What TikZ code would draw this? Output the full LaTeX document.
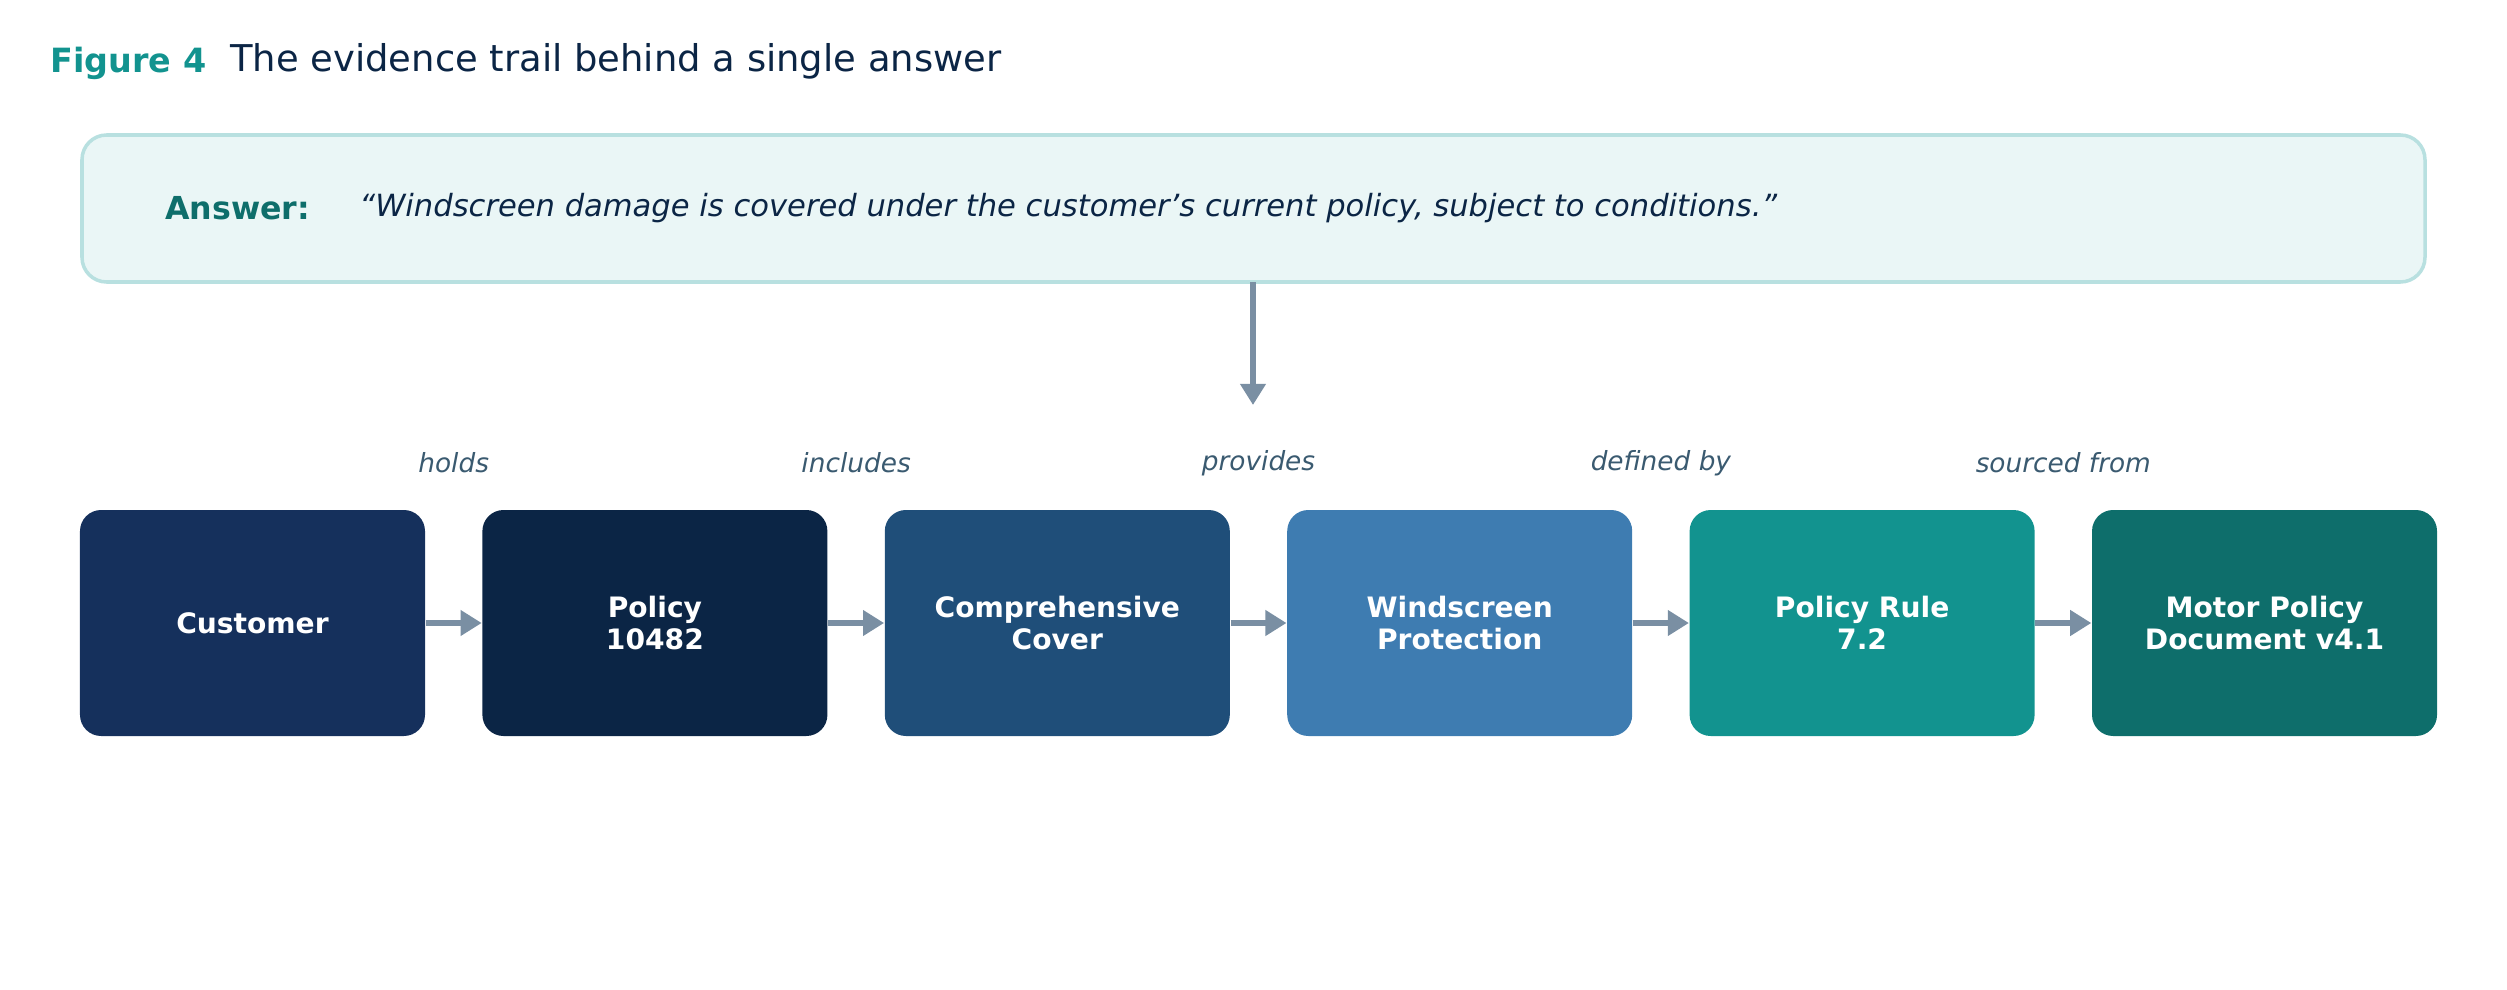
\documentclass[tikz,border=0pt]{standalone}
\usepackage{fontspec}
\setmainfont{DejaVu Sans}
\usetikzlibrary{positioning,arrows.meta}
\definecolor{teal1}{HTML}{12938F}
\definecolor{teal2}{HTML}{0E6E6B}
\definecolor{navy}{HTML}{0B2545}
\definecolor{navy2}{HTML}{15305C}
\definecolor{blue1}{HTML}{1F4E79}
\definecolor{blue2}{HTML}{3E7CB1}
\definecolor{arrowgray}{HTML}{7A8FA3}
\definecolor{labelgray}{HTML}{3A5A70}
\definecolor{answerbg}{HTML}{EAF6F6}
\definecolor{answerline}{HTML}{B8E0E0}
\tikzset{
    trail box/.style = {rounded corners=6pt, minimum width=3.45cm, minimum height=2.26cm, text=white, align=center, font=\fontsize{8}{9}\selectfont\bfseries},
    link/.style = {arrowgray, line width=1.6pt, -{Triangle[length=6pt,width=7pt]}},
    linklabel/.style = {midway, yshift=1.6cm, text=labelgray, font=\fontsize{7.5}{9}\selectfont\itshape}
}
\begin{document}
\begin{tikzpicture}
    \useasboundingbox (0,0) rectangle (25.07,9.89);

    \node[anchor=west, text=teal1, font=\fontsize{9.5}{11}\selectfont\bfseries] (fig) at (0.38,9.26) {Figure 4};
    \node[anchor=west, text=navy, font=\fontsize{10.5}{12}\selectfont] (title) at (2.18,9.28) {The evidence trail behind a single answer};

    \draw[answerline, fill=answerbg, line width=1pt, rounded corners=7pt] (0.82,7.07) rectangle (24.25,8.54);
    \node[anchor=west, text=teal2, font=\fontsize{9}{11}\selectfont\bfseries] (ans) at (1.53,7.81) {Answer:};
    \node[anchor=west, text=navy, font=\fontsize{8.7}{11}\selectfont\itshape] (quote) at (3.47,7.81) {“Windscreen damage is covered under the customer's current policy, subject to conditions.”};
    \coordinate (top) at (12.53,7.07);
    \coordinate (down) at (12.53,5.84);
    \draw[link] (top) -- (down);

    \node[trail box, fill=navy2] (cust) at (2.525,3.66) {Customer};
    \node[trail box, fill=navy, right=0.56cm of cust] (pol) {Policy\\10482};
    \node[trail box, fill=blue1, right=0.56cm of pol] (cover) {Comprehensive\\Cover};
    \node[trail box, fill=blue2, right=0.56cm of cover] (wind) {Windscreen\\Protection};
    \node[trail box, fill=teal1, right=0.56cm of wind] (rule) {Policy Rule\\7.2};
    \node[trail box, fill=teal2, right=0.56cm of rule] (doc) {Motor Policy\\Document v4.1};

    \draw[link] (cust) -- (pol) node[linklabel] {holds};
    \draw[link] (pol) -- (cover) node[linklabel] {includes};
    \draw[link] (cover) -- (wind) node[linklabel] {provides};
    \draw[link] (wind) -- (rule) node[linklabel] {defined by};
    \draw[link] (rule) -- (doc) node[linklabel] {sourced from};
\end{tikzpicture}
\end{document}
